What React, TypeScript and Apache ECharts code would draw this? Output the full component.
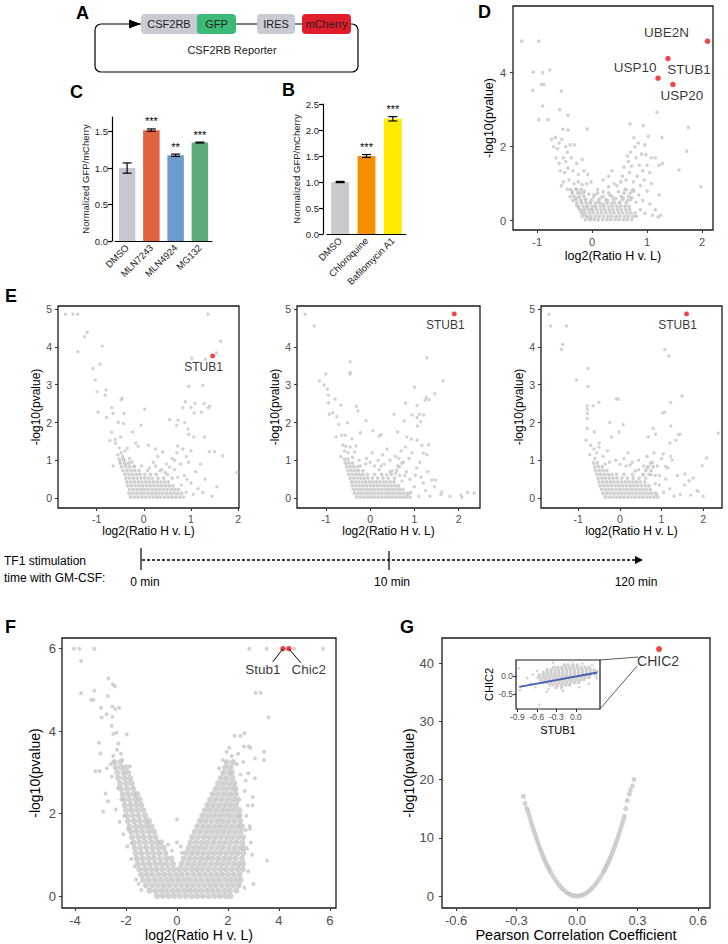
import React, { useEffect, useRef } from 'react';
import * as echarts from 'echarts';

const FONT = '"Liberation Sans", Arial, Helvetica, sans-serif';
const GRAY = '#c9c5c6';
const RED = '#e8161b';

// ---------- Panel C (bar) ----------
const C_CATS = ['DMSO', 'MLN7243', 'MLN4924', 'MG132'];
const C_MEANS = [1.0, 1.52, 1.175, 1.35];
const C_ERRS = [0.07, 0.016, 0.016, 0.006];
const C_STARS = ['', '***', '**', '***'];
const C_COLORS = ['#c6c8d0', '#e0623f', '#6e9bcd', '#5bac79'];
const C_TICKS = [0, 0.5, 1.0, 1.5];

// ---------- Panel B (bar) ----------
const B_CATS = ['DMSO', 'Chloroquine', 'Bafilomycin A1'];
const B_MEANS = [1.0, 1.5, 2.215];
const B_ERRS = [0.012, 0.028, 0.042];
const B_STARS = ['', '***', '***'];
const B_COLORS = ['#c8cad0', '#f38f00', '#ffea00'];
const B_TICKS = [0, 0.5, 1.0, 1.5, 2.0, 2.5];

// ---------- Panel D (volcano) ----------
const D_RED_NAMES = ['UBE2N', 'STUB1', 'USP10', 'USP20'];
const D_RED_X = [2.1, 1.38, 1.2, 1.47];
const D_RED_Y = [4.85, 4.38, 3.85, 3.68];
const D_GRAY = [
  [-1.28,4.85],[-0.97,4.85],[-1.07,4.01],[-0.9,4.0],[-0.77,4.07],[-0.88,3.68],[-0.92,3.68],[-1.08,3.52],[-0.56,3.5],[-0.9,3.1],
  [-0.97,2.73],[-0.8,2.73],[-0.59,3.0],[-0.44,2.85],[-0.53,2.47],[-0.44,2.45],[-0.09,2.48],[0.69,2.62],[0.93,2.57],[1.18,2.93],
  [1.75,2.52],[1.02,2.28],[1.27,2.25],[0.84,2.1],[0.76,2.24],[0.96,2.05],[1.08,1.7],[1.15,1.7],[1.72,1.88],[1.58,1.37],
  [1.98,0.92],[1.22,1.5],[1.28,1.55],[0.98,1.78],
  [-0.74,2.2],[-0.67,2.25],[-0.6,2.1],[-0.63,1.95],[-0.7,2.0],[-0.55,2.2],[-0.48,2.0],[-0.4,2.05],[-0.32,2.05],[-0.45,1.85],
  [-0.52,1.7],[-0.66,1.7],[-0.6,1.55],[-0.48,1.6],[-0.38,1.7],[-0.28,1.55],[-0.18,1.65],[-0.58,1.35],[-0.5,1.3],[-0.44,1.42],
  [-0.35,1.35],[-0.25,1.25],[-0.15,1.35],[-0.08,1.25],[-0.52,1.05],[-0.42,1.1],[-0.33,1.0],[-0.25,1.05],[-0.18,0.98],[-0.1,1.0],
  [-0.02,1.05],[-0.45,0.85],[-0.36,0.78],[-0.3,0.86],[-0.22,0.75],[-0.14,0.8],[-0.06,0.72],[-0.35,0.55],[-0.28,0.6],[-0.2,0.5],
  [-0.12,0.58],[-0.04,0.5],[-0.25,0.35],[-0.18,0.28],[-0.1,0.38],[-0.02,0.3],[-0.15,0.15],[-0.08,0.1],[-0.02,0.05],[-0.28,0.42],
  [-0.4,0.65],[-0.56,0.95],
  [0.05,0.4],[0.12,0.5],[0.2,0.45],[0.28,0.55],[0.35,0.48],[0.43,0.6],[0.5,0.5],[0.57,0.62],[0.64,0.55],[0.72,0.62],
  [0.16,0.62],[0.32,0.7],[0.48,0.78],[0.6,0.85],[0.76,0.8],[0.8,0.5],
  [0.04,0.7],[0.1,0.85],[0.2,0.78],[0.3,0.92],[0.45,0.95],[0.52,1.05],
  [0.55,1.2],[0.62,1.1],[0.68,1.3],[0.75,1.05],[0.82,1.2],[0.88,0.95],[0.95,1.1],[0.58,1.45],[0.66,1.6],[0.72,1.48],
  [0.8,1.7],[0.86,1.5],[0.92,1.35],[0.7,1.85],[0.78,2.0],[0.64,1.75],[0.9,1.8],[1.0,1.5],[1.05,1.3],[0.85,0.7],
  [0.92,0.55],[1.0,0.8],[0.88,0.3],[0.96,0.2],[1.05,0.45],[1.1,0.15],[1.2,0.1],[1.25,0.15],[1.22,0.7],[1.15,0.3],
  [1.08,1.0],[0.2,1.1],[0.3,1.2],[0.36,1.35],[0.4,1.0]
];
const D_CORE_ROWS = [
  [0.03, [-0.12,-0.04,0.04,0.11,0.19,0.27,0.34,0.42,0.49,0.57,0.64,0.72]],
  [0.12, [-0.18,-0.1,-0.02,0.06,0.13,0.21,0.29,0.36,0.44,0.51,0.59,0.66,0.74,0.8]],
  [0.21, [-0.2,-0.13,-0.05,0.02,0.1,0.17,0.25,0.33,0.4,0.48,0.55,0.63,0.7,0.78]],
  [0.3, [-0.22,-0.14,-0.07,0.01,0.08,0.16,0.23,0.31,0.38,0.46,0.53,0.61,0.68]],
  [0.39, [-0.25,-0.16,-0.08,0.0,0.07,0.15,0.22,0.3,0.37,0.45,0.52,0.6,0.67]],
  [0.48, [-0.28,-0.19,-0.11,-0.03,0.06,0.14,0.27,0.41,0.5,0.62]],
  [0.57, [-0.3,-0.21,-0.12,-0.01,0.12,0.25,0.39,0.55,0.7]],
  [0.66, [-0.33,-0.24,-0.15,0.03,0.2,0.36,0.53,0.66]],
  [0.75, [-0.36,-0.26,-0.16,0.1,0.3,0.58,0.7]],
  [0.84, [-0.39,-0.28,-0.2,0.62,0.74]]
];

// ---------- Panel E (three volcanoes) ----------
const E1_RED = [1.46, 3.76];
const E2_RED = [1.9, 4.87];
const E3_RED = [1.6, 4.87];
const E1_GRAY = [
  [-1.66,4.86],[-1.5,4.86],[-1.4,4.86],[-1.2,4.38],[-1.26,4.27],[-1.4,3.87],[-0.88,4.02],[-0.93,3.54],[-1.08,3.43],[-1.03,3.12],
  [-0.99,2.81],[-0.8,2.86],[-0.82,2.72],[-0.97,2.27],[-0.46,2.64],[-0.48,2.6],[0.02,2.35],[-0.68,2.39],[-0.65,2.24],[-0.42,2.24],
  [-0.79,2.13],[-0.54,2.0],[-0.43,1.97],[-0.06,1.93],[-0.68,1.74],[-0.61,1.55],[-0.72,1.52],[-0.49,1.62],[-0.24,1.75],[-0.17,1.45],
  [-0.12,1.37],
  [1.36,4.86],[1.63,4.15],[1.54,3.84],[1.31,3.67],[1.02,3.7],[0.95,2.96],[1.25,2.98],[1.4,2.44],[1.37,2.39],[1.28,2.5],
  [1.09,2.5],[0.88,2.55],[1.0,2.4],[0.83,2.39],[1.07,2.25],[1.22,2.27],[0.73,2.06],[0.7,1.92],[0.87,2.0],[0.55,2.08],
  [0.94,1.83],[1.06,1.62],[0.95,1.69],[1.29,1.62],[1.39,1.23],[1.5,1.23],[1.67,1.12],[1.98,0.68],
  [-0.52,1.33],[-0.48,1.2],[-0.55,1.15],[-0.45,1.1],[-0.4,1.25],[-0.35,1.32],[-0.42,1.0],[-0.5,0.95],[-0.38,0.9],[-0.3,1.05],
  [-0.25,0.95],[-0.2,0.85],[-0.05,0.85],
  [0.48,0.9],[0.6,1.05],[0.65,0.75],[0.7,1.2],[0.72,0.55],[0.78,0.9],[0.83,1.3],[0.86,0.6],[0.9,0.15],[0.95,0.95],
  [1.0,0.4],[1.05,0.1],[1.1,0.7],[0.12,0.8],[0.2,0.95],[0.3,1.1],[0.4,1.22],[0.25,0.85],[0.45,0.68],[0.55,0.82],
  [0.65,1.0],[0.72,1.38],[0.92,0.5],[1.15,0.25],[1.25,0.15],[1.3,0.5],[1.45,0.05],[1.55,0.3],[1.2,0.9],[0.9,1.1],
  [1.0,1.25],[0.25,1.3],[0.1,1.4],[-0.6,1.45],[-0.65,0.85],[0.38,0.75],[0.8,0.35]
];
const E1_CORE_ROWS = [
  [0.03, [-0.28,-0.2,-0.12,-0.04,0.04,0.12,0.2,0.28,0.36,0.44,0.52,0.6,0.68,0.76,0.84]],
  [0.13, [-0.32,-0.24,-0.16,-0.08,0.0,0.08,0.16,0.24,0.32,0.4,0.48,0.56,0.64,0.72,0.8]],
  [0.23, [-0.3,-0.22,-0.14,-0.06,0.02,0.1,0.18,0.26,0.34,0.42,0.5,0.58,0.66,0.74]],
  [0.33, [-0.34,-0.26,-0.18,-0.1,-0.02,0.06,0.14,0.22,0.3,0.38,0.46,0.54,0.62]],
  [0.43, [-0.36,-0.28,-0.2,-0.12,-0.04,0.04,0.12,0.2,0.28,0.36,0.44,0.52]],
  [0.53, [-0.38,-0.3,-0.22,-0.14,-0.06,0.02,0.1,0.18,0.3,0.42,0.6]],
  [0.63, [-0.4,-0.32,-0.24,-0.16,-0.08,0.02,0.14,0.26,0.5]],
  [0.73, [-0.44,-0.35,-0.27,-0.19,-0.1,0.08,0.35]],
  [0.83, [-0.47,-0.38,-0.3,-0.21]],
  [0.93, [-0.5,-0.41,-0.32]],
  [1.03, [-0.52,-0.43]]
];
const E2_GRAY = [
  [-1.47,4.86],[-1.26,4.55],[-0.45,3.61],[-0.45,3.32],[-0.45,3.28],[-1.0,3.28],[-1.14,3.1],[-1.04,2.99],[-0.96,2.88],[-0.94,2.72],
  [-0.79,2.62],[-0.94,2.52],[-0.66,2.46],[-0.31,2.43],[-0.28,2.31],[-0.84,2.26],[-0.92,2.22],[-0.75,2.15],[-0.71,1.95],[-0.51,1.99],
  [-0.64,1.66],[-0.77,1.62],[-0.56,1.66],[-0.41,1.57],[-0.09,2.05],[0.06,1.78],[0.21,1.64],[0.25,1.68],[-0.22,1.73],[-0.32,1.38],
  [-0.55,1.37],
  [1.28,3.71],[1.65,3.1],[1.0,2.93],[1.46,2.76],[1.27,2.66],[1.33,2.6],[1.24,2.59],[1.06,2.45],[0.8,2.51],[0.54,2.22],
  [0.95,2.2],[1.11,2.22],[1.21,2.2],[1.06,2.13],[1.14,2.02],[0.77,2.04],[1.07,1.91],[0.62,1.75],[0.83,1.62],[0.93,1.56],
  [1.06,1.54],[1.17,1.39],[1.32,1.41],[1.2,1.19],[1.28,1.15],[1.39,0.48],[1.47,0.48],[1.62,0.17],[2.35,0.13],[2.07,0.02],
  [-0.62,1.4],[-0.58,1.25],[-0.66,1.1],[-0.5,1.2],[-0.45,1.35],[-0.4,1.08],[-0.35,1.22],[-0.25,1.0],[-0.22,0.85],
  [0.2,0.75],[0.32,0.9],[0.37,0.62],[0.45,1.0],[0.5,0.72],[0.57,1.1],[0.62,0.85],[0.7,1.25],[0.75,0.95],[0.8,1.35],
  [0.82,0.7],[0.88,1.05],[0.9,0.5],[0.95,1.2],[1.0,0.3],[1.05,0.8],[1.1,0.05],[1.15,0.55],[1.25,0.2],[1.35,0.05],
  [1.45,0.3],[1.6,0.1],[1.8,0.05],[2.05,0.08],[2.2,0.15],[0.1,0.85],[0.0,0.95],[-0.08,1.05],[0.18,1.0],[0.28,1.15],
  [0.38,1.3],[0.05,1.2],[-0.1,0.9],[0.25,0.85],[0.45,0.7],[0.65,1.05],[0.58,0.65],[0.78,0.6],[0.67,0.6],[0.72,0.45],
  [1.02,0.6],[1.12,0.95],[1.2,0.4],[1.3,0.7],[0.85,0.1],[0.92,0.15]
];
const E2_CORE_ROWS = [
  [0.03, [-0.3,-0.22,-0.14,-0.06,0.02,0.1,0.18,0.26,0.34,0.42,0.5,0.58,0.66,0.74,0.82,0.9]],
  [0.13, [-0.35,-0.27,-0.19,-0.11,-0.03,0.05,0.13,0.21,0.29,0.37,0.45,0.53,0.61,0.69,0.77,0.85]],
  [0.23, [-0.38,-0.3,-0.22,-0.14,-0.06,0.02,0.1,0.18,0.26,0.34,0.42,0.5,0.58,0.66,0.74]],
  [0.33, [-0.4,-0.32,-0.24,-0.16,-0.08,0.0,0.08,0.16,0.24,0.32,0.4,0.48,0.56,0.64]],
  [0.43, [-0.42,-0.34,-0.26,-0.18,-0.1,-0.02,0.06,0.14,0.22,0.3,0.38,0.46,0.54]],
  [0.53, [-0.45,-0.37,-0.29,-0.21,-0.13,-0.05,0.05,0.17,0.29,0.41,0.55]],
  [0.63, [-0.48,-0.4,-0.32,-0.24,-0.16,-0.06,0.1,0.26,0.48]],
  [0.73, [-0.5,-0.42,-0.34,-0.26,-0.16,0.6]],
  [0.83, [-0.53,-0.45,-0.37,-0.28,0.66]],
  [0.93, [-0.56,-0.48,-0.4,0.72]],
  [1.03, [-0.58,-0.5]]
];
const E3_GRAY = [
  [-1.7,4.86],[-1.66,4.55],[-1.28,4.55],[-1.37,4.06],[-1.4,3.93],[-1.04,3.12],[-0.76,3.43],[-0.76,2.95],[-0.78,2.44],[-0.78,2.35],
  [-0.78,2.24],[-0.78,2.11],[-0.64,2.44],[-0.5,2.53],[-0.08,2.62],[-0.04,2.62],[-0.78,1.84],[-0.81,1.53],[-0.61,1.75],[-0.49,1.46],
  [-0.24,2.0],[0.08,1.94],[-0.02,1.75],[-0.2,1.62],
  [1.08,3.93],[1.18,3.76],[1.49,2.7],[1.22,2.53],[1.02,2.25],[1.08,2.27],[1.22,1.91],[1.4,1.68],[1.44,1.69],[1.34,1.53],
  [1.2,1.46],[0.8,1.84],[0.86,1.69],[0.68,1.62],[2.36,1.72],[2.08,1.06],[1.98,0.86],[1.56,0.64],[1.76,0.53],[1.22,1.1],
  [1.04,1.17],[1.1,0.84],[1.66,0.46],[1.88,0.18],
  [-0.7,1.4],[-0.62,1.3],[-0.72,1.15],[-0.55,1.2],[-0.6,1.05],[-0.5,1.35],[-0.4,1.1],[-0.35,0.9],[-0.3,1.25],[-0.25,0.95],
  [0.25,0.88],[0.37,0.72],[0.45,1.0],[0.57,0.85],[0.65,1.1],[0.78,0.95],[0.82,1.2],[0.9,0.85],[0.95,0.35],[1.0,1.05],
  [1.05,0.15],[1.1,0.5],[1.2,0.25],[1.3,0.05],[1.38,0.6],[1.45,0.1],[1.55,0.35],[1.7,0.08],[1.85,0.2],[2.0,0.05],
  [0.0,0.9],[0.1,1.05],[0.2,1.2],[-0.1,1.0],[0.3,0.95],[0.15,0.85],[0.45,0.75],[0.55,0.62],[0.65,0.8],[0.75,0.62],
  [0.85,0.38],[0.95,0.6],[0.85,0.6],[0.88,0.1],[1.15,0.8],[1.25,1.0]
];
const E3_CORE_ROWS = [
  [0.03, [-0.35,-0.26,-0.17,-0.08,0.01,0.1,0.19,0.28,0.37,0.46,0.55,0.64,0.73,0.82,0.91]],
  [0.13, [-0.4,-0.31,-0.22,-0.13,-0.04,0.05,0.14,0.23,0.32,0.41,0.5,0.59,0.68,0.77,0.86]],
  [0.23, [-0.44,-0.35,-0.26,-0.17,-0.08,0.01,0.1,0.19,0.28,0.37,0.46,0.55,0.64,0.73]],
  [0.33, [-0.47,-0.38,-0.29,-0.2,-0.11,-0.02,0.07,0.16,0.25,0.34,0.43,0.52,0.61,0.7]],
  [0.43, [-0.5,-0.41,-0.32,-0.23,-0.14,-0.05,0.04,0.13,0.22,0.31,0.4,0.49,0.6]],
  [0.53, [-0.52,-0.43,-0.34,-0.25,-0.16,-0.07,0.05,0.18,0.32,0.46,0.62]],
  [0.63, [-0.55,-0.46,-0.37,-0.28,-0.19,-0.08,0.1,0.3,0.56,0.7]],
  [0.73, [-0.58,-0.49,-0.4,-0.31,0.62,0.75]],
  [0.83, [-0.6,-0.51,-0.42,0.68,0.8]],
  [0.93, [-0.63,-0.54,0.74]]
];
const E_X_TICKS = [-1, 0, 1, 2];
const E_Y_TICKS = [0, 1, 2, 3, 4, 5];
const TIME_LABELS = ['0 min', '10 min', '120 min'];

// ---------- Panel F ----------
const F_RED_NAMES = ['Stub1', 'Chic2'];
const F_RED_X = [4.16, 4.39];
const F_RED_Y = [6.0, 6.0];
const F_SPARSE = [
  [-4.04,6.0],[-3.83,6.0],[-3.24,6.0],[2.84,6.0],[3.52,6.0],[5.73,6.0],[4.6,6.0],[-3.76,5.7],[-3.76,4.92],[-3.24,4.98],
  [-3.37,4.76],[-3.28,4.76],[-2.69,5.28],[-2.52,5.14],[-2.43,5.09],[-2.72,4.85],[-2.98,4.57],[-2.76,4.41],[-2.96,4.33],[-2.53,4.35],
  [-2.42,4.53],[-2.53,4.6],[-2.27,4.57],[-2.56,4.13],[-2.5,3.93],[-2.37,3.96],[-1.97,3.92],[-3.06,3.72],[-3.0,3.46],[-3.2,3.03],
  [-3.03,3.03],[-2.75,3.1],[-2.8,2.49],[-2.9,2.05],[-2.5,3.26],[3.08,4.93],[3.28,4.93],[3.59,4.33],[3.42,3.5],[3.42,3.3],
  [3.06,3.34],[2.65,3.95],[2.49,3.89],[2.26,3.89],[2.82,3.63],[2.63,3.63],[2.88,3.59],[3.06,2.86],[2.8,2.98],[2.97,2.4],
  [2.97,2.2],[3.53,0.86],[3.0,0.29],[2.7,1.6],[2.87,1.63],
  [-2.5,3.4],[-2.6,3.2],[-2.35,3.55],[-2.2,3.45],[-2.55,2.9],[-2.7,2.3],[-2.4,2.1],[-2.25,1.8],[-2.1,1.5],[-1.95,1.2],
  [-1.8,0.9],[-1.6,0.4],[-1.4,0.15],[-0.2,1.1],[0.0,1.3],[0.0,1.86],[0.15,1.2],[-0.35,1.25],[0.2,1.05],[2.7,2.8],
  [2.78,2.2],[2.85,1.7],[2.9,1.3],[2.95,1.0],[2.8,0.6],[2.65,0.2],[2.35,3.2],[2.15,3.4],[1.95,3.5],[2.6,3.25],
  [1.8,3.3],[2.05,3.6],[2.5,2.95],[-2.3,3.7],[-2.15,3.3],[-1.85,3.15],[1.65,3.1],[2.4,3.45],
  [-2.32,2.62],[-2.18,2.35],[-2.08,1.95],[-1.92,1.62],[-1.78,1.28],[-1.66,0.72],[-1.5,0.3],[2.66,2.55],[2.72,1.95],[2.75,1.15]
];
const F_DENSE_ROWS = [
  [0.0, [-0.78,-0.55,-0.32,-0.1,0.12,0.35,0.58,0.8,1.02,1.25,1.48,1.7,1.92,2.1]],
  [0.13, [-1.08,-0.85,-0.62,-0.4,-0.17,0.05,0.28,0.5,0.73,0.95,1.18,1.4,1.63,1.86,2.08,2.33]],
  [0.26, [-1.22,-0.98,-0.75,-0.52,-0.3,-0.06,0.17,0.4,0.62,0.85,1.08,1.3,1.52,1.75,1.98,2.2,2.43]],
  [0.39, [-1.33,-1.1,-0.86,-0.63,-0.4,-0.18,0.05,0.28,0.5,0.73,0.96,1.2,1.42,1.65,1.88,2.1,2.32,2.5]],
  [0.52, [-1.4,-1.18,-0.95,-0.72,-0.5,-0.27,-0.04,0.18,0.42,0.65,0.88,1.1,1.33,1.56,1.78,2.0,2.23,2.46]],
  [0.65, [-1.48,-1.25,-1.02,-0.8,-0.57,-0.34,-0.12,0.1,0.33,0.56,0.78,1.0,1.24,1.47,1.7,1.92,2.15,2.38,2.58]],
  [0.78, [-1.53,-1.3,-1.08,-0.85,-0.62,-0.4,-0.16,0.18,0.42,0.65,0.88,1.1,1.33,1.56,1.78,2.0,2.23,2.45,2.6]],
  [0.91, [-1.58,-1.35,-1.12,-0.9,-0.66,-0.42,-0.22,0.27,0.5,0.72,0.95,1.18,1.4,1.63,1.86,2.08,2.3,2.55]],
  [1.04, [-1.62,-1.4,-1.16,-0.93,-0.7,-0.45,0.36,0.58,0.8,1.03,1.26,1.48,1.7,1.93,2.16,2.38,2.6]],
  [1.17, [-1.66,-1.43,-1.2,-0.97,-0.74,-0.52,0.46,0.68,0.9,1.12,1.35,1.58,1.8,2.03,2.26,2.48,2.62]],
  [1.3, [-1.7,-1.47,-1.24,-1.0,-0.78,-0.63,0.53,0.75,0.98,1.2,1.43,1.66,1.88,2.1,2.33,2.56]],
  [1.43, [-1.76,-1.52,-1.3,-1.06,-0.84,0.6,0.83,1.06,1.28,1.5,1.73,1.96,2.18,2.4,2.6]],
  [1.56, [-1.8,-1.57,-1.34,-1.1,-0.9,0.7,0.92,1.15,1.38,1.6,1.82,2.05,2.28,2.5]],
  [1.69, [-1.86,-1.62,-1.4,-1.18,-1.0,0.8,1.02,1.25,1.48,1.7,1.92,2.15,2.38,2.55]],
  [1.82, [-1.92,-1.68,-1.45,-1.22,-1.1,0.9,1.12,1.35,1.58,1.8,2.02,2.25,2.48]],
  [1.95, [-1.96,-1.73,-1.5,-1.25,1.0,1.22,1.45,1.68,1.9,2.12,2.35,2.46]],
  [2.08, [-2.0,-1.78,-1.55,-1.32,1.1,1.32,1.55,1.78,2.0,2.22,2.44]],
  [2.21, [-2.05,-1.82,-1.6,-1.4,1.2,1.42,1.65,1.88,2.1,2.32]],
  [2.34, [-2.08,-1.86,-1.63,-1.46,1.3,1.52,1.75,1.98,2.2,2.4]],
  [2.47, [-2.13,-1.9,-1.68,-1.56,1.4,1.62,1.85,2.08,2.3]],
  [2.6, [-2.2,-1.96,-1.72,1.52,1.74,1.96,2.18,2.3]],
  [2.73, [-2.24,-2.0,-1.78,1.62,1.84,2.06,2.25]],
  [2.86, [-2.3,-2.06,-1.84,1.72,1.94,2.18]],
  [2.99, [-2.34,-2.1,-1.92,1.82,2.05,2.15]],
  [3.12, [-2.4,-2.18,-2.0,1.9,2.1]],
  [3.25, [-2.45,-2.22,1.95,2.2]]
];
const F_X_TICKS = [-4, -2, 0, 2, 4, 6];
const F_Y_TICKS = [0, 2, 4, 6];

// ---------- Panel G ----------
const G_RED = [0.407, 42.4];
const G_CURVE = [
  [-0.266,17.1],[-0.258,15.9],[-0.25,15.1],[-0.245,14.7],[-0.24,14.2],[-0.235,13.6],[-0.23,13.0],[-0.225,12.4],[-0.22,11.9],[-0.215,11.3],
  [-0.21,10.8],[-0.205,10.3],[-0.2,9.75],[-0.195,9.25],[-0.19,8.78],[-0.185,8.3],[-0.18,7.85],[-0.175,7.4],[-0.17,6.98],[-0.165,6.56],
  [-0.16,6.16],[-0.155,5.78],[-0.15,5.4],[-0.145,5.05],[-0.14,4.7],[-0.135,4.37],[-0.13,4.05],[-0.12,3.45],[-0.11,2.9],[-0.1,2.39],
  [-0.09,1.93],[-0.08,1.52],[-0.07,1.16],[-0.06,0.85],[-0.05,0.59],[-0.04,0.38],[-0.03,0.21],[-0.02,0.09],[-0.01,0.02],[0,0],
  [0.01,0.02],[0.02,0.1],[0.03,0.22],[0.04,0.38],[0.05,0.6],[0.06,0.86],[0.07,1.17],[0.08,1.53],[0.09,1.94],[0.1,2.4],
  [0.11,2.9],[0.12,3.46],[0.13,4.06],[0.135,4.38],[0.14,4.72],[0.145,5.07],[0.15,5.42],[0.155,5.8],[0.16,6.18],[0.165,6.58],
  [0.17,7.0],[0.175,7.43],[0.18,7.87],[0.185,8.33],[0.19,8.8],[0.195,9.28],[0.2,9.78],[0.205,10.3],[0.21,10.82],[0.215,11.36],
  [0.22,11.92],[0.225,12.5],[0.23,13.1],[0.235,13.7],[0.242,15.0],[0.25,16.4],[0.26,17.5],[0.265,18.2],[0.275,18.9],[0.283,20.0]
];
const G_X_TICKS = [-0.6, -0.3, 0.0, 0.3, 0.6];
const G_Y_TICKS = [0, 10, 20, 30, 40];

// ---------- Inset (CHIC2 vs STUB1) ----------
const INSET_ROWS = [
  [0.32, [-0.18,-0.12,-0.05,0.02]],
  [0.25, [-0.34,-0.28,-0.22,-0.16,-0.1,-0.04,0.02,0.08,0.14,0.2]],
  [0.18, [-0.44,-0.38,-0.32,-0.26,-0.2,-0.14,-0.08,-0.02,0.04,0.1,0.16,0.22,0.28]],
  [0.11, [-0.5,-0.44,-0.38,-0.32,-0.26,-0.2,-0.14,-0.08,-0.02,0.04,0.1,0.16,0.22,0.28]],
  [0.04, [-0.56,-0.5,-0.44,-0.38,-0.32,-0.26,-0.2,-0.14,-0.08,-0.02,0.04,0.1,0.16,0.22,0.3]],
  [-0.03, [-0.58,-0.52,-0.46,-0.4,-0.34,-0.28,-0.22,-0.16,-0.1,-0.04,0.02,0.08,0.14,0.2]],
  [-0.1, [-0.54,-0.48,-0.42,-0.36,-0.3,-0.24,-0.18,-0.12,-0.06,0.0,0.06,0.12]],
  [-0.17, [-0.5,-0.44,-0.38,-0.32,-0.26,-0.2,-0.14,-0.08,-0.02,0.04]],
  [-0.24, [-0.4,-0.34,-0.28,-0.22,-0.16,-0.1]],
  [-0.31, [-0.3,-0.22]]
];
const INSET_SPARSE = [
  [-0.88,0.22],[-0.86,-0.38],[-0.75,-0.05],[-0.7,-0.2],[-0.66,0.05],[-0.62,-0.3],[-0.56,-0.78],[-0.57,-0.88],[-0.45,-0.42],[-0.35,0.38],
  [-0.05,0.42],[0.1,0.35],[0.25,0.3],[0.33,0.15],[0.32,-0.05],[0.2,-0.2],[-0.2,-0.4],[0.05,-0.3],[-0.6,0.15],[-0.42,-0.35]
];
const INSET_FIT = [[-0.87, -0.29], [0.33, 0.105]];
const INSET_X_TICKS = [-0.9, -0.6, -0.3, 0.0];
const INSET_Y_TICKS = [-0.5, 0.0];

// ---------- helpers ----------
function fromRows(rows: any[]) {
  const out: number[][] = [];
  rows.forEach(([y, xs]: any) => xs.forEach((x: number) => out.push([x, y])));
  return out;
}

function barSeries(gi: number, means: number[], errs: number[], stars: string[], colors: string[]) {
  return [
    {
      type: 'bar', xAxisIndex: gi, yAxisIndex: gi, barWidth: '68%', silent: true,
      data: means.map((v, i) => ({ value: v, itemStyle: { color: colors[i] } })),
    },
    {
      type: 'custom', xAxisIndex: gi, yAxisIndex: gi, silent: true, z: 5,
      data: means.map((m, i) => [i, m, errs[i]]),
      renderItem: (params: any, api: any) => {
        const i = api.value(0), m = api.value(1), e = api.value(2);
        const top = api.coord([i, m + e]);
        const bot = api.coord([i, m - e]);
        const cw = 4.5;
        const ls = { stroke: '#000', lineWidth: 1.2 };
        return {
          type: 'group',
          children: [
            { type: 'line', shape: { x1: top[0], y1: top[1], x2: bot[0], y2: bot[1] }, style: ls },
            { type: 'line', shape: { x1: top[0] - cw, y1: top[1], x2: top[0] + cw, y2: top[1] }, style: ls },
            { type: 'line', shape: { x1: bot[0] - cw, y1: bot[1], x2: bot[0] + cw, y2: bot[1] }, style: ls },
            {
              type: 'text', x: top[0], y: top[1] - 2,
              style: { text: stars[params.dataIndex], fill: '#000', fontSize: 11, fontFamily: FONT, align: 'center', verticalAlign: 'bottom' },
            },
          ],
        };
      },
    },
  ];
}

function barX(gi: number, cats: string[]) {
  return {
    type: 'category', gridIndex: gi, data: cats,
    axisLine: { lineStyle: { color: '#000', width: 1.2 } },
    axisTick: { alignWithLabel: true, length: 4, lineStyle: { color: '#000', width: 1.2 } },
    axisLabel: { rotate: 45, interval: 0, fontSize: 9.5, color: '#222', fontFamily: FONT, margin: 5 },
  };
}
function barY(gi: number, max: number, ticks: number[], offset: number) {
  return {
    type: 'value', gridIndex: gi, min: 0, max, offset,
    name: 'Normalized GFP/mCherry', nameLocation: 'middle', nameGap: 22,
    nameTextStyle: { fontSize: 9.5, color: '#222', fontFamily: FONT },
    axisLine: { show: true, onZero: false, lineStyle: { color: '#000', width: 1.2 } },
    axisTick: { show: true, length: 4, lineStyle: { color: '#000', width: 1.2 }, customValues: ticks },
    axisLabel: { fontSize: 9.5, color: '#222', fontFamily: FONT, margin: 4, customValues: ticks, formatter: (v: number) => v.toFixed(1) },
    splitLine: { show: false },
  };
}
function gAxis(gi: number, min: number, max: number, ticks: number[], name: string,
  fs: number, nfs: number, gap: number, margin: number, fmt?: (v: number) => string) {
  return {
    type: 'value', gridIndex: gi, min, max, name, nameLocation: 'middle', nameGap: gap,
    nameTextStyle: { fontSize: nfs, color: '#000', fontFamily: FONT },
    axisLine: { show: false, onZero: false },
    splitLine: { show: false },
    axisTick: { show: true, length: 3, lineStyle: { color: '#333', width: 1 }, customValues: ticks },
    axisLabel: { fontSize: fs, color: '#4d4d4d', fontFamily: FONT, margin, customValues: ticks, formatter: fmt || ((v: number) => String(v)) },
  };
}
function gray(gi: number, data: number[][], size: number) {
  return { type: 'scatter', xAxisIndex: gi, yAxisIndex: gi, data, symbolSize: size, itemStyle: { color: GRAY }, silent: true };
}
function red(gi: number, items: any[], size: number, fs: number, extra?: any) {
  return {
    type: 'scatter', xAxisIndex: gi, yAxisIndex: gi, symbolSize: size, itemStyle: { color: RED }, silent: true, z: 4,
    label: { show: true, position: 'inside', formatter: '{b}', color: '#000', fontSize: fs, fontFamily: FONT, textBorderWidth: 0 },
    data: items, ...(extra || {}),
  };
}

const BOX = { show: true, borderColor: '#1a1a1a', borderWidth: 1.3, backgroundColor: '#fff' };

// label offsets (pixels) — style only
const D_LABEL_OFFSETS = [[-41, -8.5], [21, 11], [-23, -10.5], [9, 11.5]];
const E_LABEL_OFFSET = [-9, 11];
const F_LABEL_OFFSETS = [[-20, 21], [20, 21]];

function txt(x: number, y: number, text: string, size: number, opts: any = {}) {
  return {
    type: 'text', x, y, silent: true, z: 50,
    style: {
      text, fontSize: size, fontFamily: FONT, fill: opts.fill || '#000', fontWeight: opts.weight || 'normal',
      align: opts.align || 'left', verticalAlign: 'middle', textAlign: opts.align || 'left', textVerticalAlign: 'middle',
    },
  };
}

function buildOption() {
  const letters = [['A', 76, 13], ['C', 70, 92], ['B', 282, 90], ['D', 478, 12], ['E', 5, 296], ['F', 5, 627], ['G', 400, 627]]
    .map(([t, x, y]: any) => txt(x, y, t, 18, { weight: 'bold' }));

  const panelA = [
    { type: 'rect', shape: { x: 95, y: 24, width: 263, height: 48, r: 6 }, style: { fill: 'none', stroke: '#000', lineWidth: 1.2 }, silent: true, z: 40 },
    { type: 'polygon', shape: { points: [[129, 19.5], [141, 24], [129, 28.5]] }, style: { fill: '#000' }, silent: true, z: 41 },
    { type: 'rect', shape: { x: 141, y: 14, width: 62, height: 20, r: 4 }, style: { fill: '#c9cbd2' }, silent: true, z: 42 },
    { type: 'rect', shape: { x: 197, y: 14, width: 39, height: 20, r: 4 }, style: { fill: '#3dba78' }, silent: true, z: 43 },
    { type: 'rect', shape: { x: 257, y: 14, width: 38, height: 20, r: 4 }, style: { fill: '#c9cbd2' }, silent: true, z: 42 },
    { type: 'rect', shape: { x: 302, y: 14, width: 49, height: 20, r: 4 }, style: { fill: '#e21d2b' }, silent: true, z: 42 },
    txt(169, 24, 'CSF2RB', 11, { align: 'center', fill: '#222' }),
    txt(216.5, 24, 'GFP', 11, { align: 'center', fill: '#222' }),
    txt(276, 24, 'IRES', 11, { align: 'center', fill: '#222' }),
    txt(326.5, 24, 'mCherry', 11, { align: 'center', fill: '#222' }),
    txt(232, 50, 'CSF2RB Reporter', 11, { align: 'center', fill: '#222' }),
  ];

  const timeline = [
    txt(4, 561, 'TF1 stimulation', 12),
    txt(4, 578, 'time with GM-CSF:', 12),
    { type: 'line', shape: { x1: 141, y1: 548, x2: 141, y2: 570 }, style: { stroke: '#000', lineWidth: 1.2 }, silent: true, z: 40 },
    { type: 'line', shape: { x1: 389, y1: 551, x2: 389, y2: 570 }, style: { stroke: '#000', lineWidth: 1.2 }, silent: true, z: 40 },
    { type: 'line', shape: { x1: 142, y1: 560, x2: 636, y2: 560 }, style: { stroke: '#000', lineWidth: 1.6, lineDash: [3, 2] }, silent: true, z: 40 },
    { type: 'polygon', shape: { points: [[635, 556], [643, 560], [635, 564]] }, style: { fill: '#000' }, silent: true, z: 40 },
    txt(145, 582, TIME_LABELS[0], 12, { align: 'center' }),
    txt(392, 582, TIME_LABELS[1], 12, { align: 'center' }),
    txt(636, 582, TIME_LABELS[2], 12, { align: 'center' }),
  ];

  const insetLinks = [
    { type: 'line', shape: { x1: 600, y1: 660, x2: 638, y2: 657 }, style: { stroke: '#333', lineWidth: 0.8 }, silent: true, z: 60 },
    { type: 'line', shape: { x1: 600, y1: 709, x2: 637, y2: 666 }, style: { stroke: '#333', lineWidth: 0.8 }, silent: true, z: 60 },
  ];

  const fmt1 = (v: number) => v.toFixed(1);

  return {
    animation: false,
    backgroundColor: '#fff',
    textStyle: { fontFamily: FONT },
    grid: [
      { left: 115, top: 117, width: 97, height: 124 },
      { left: 327, top: 104, width: 79, height: 130 },
      { left: 513, top: 6, width: 200, height: 224, ...BOX },
      { left: 58, top: 306, width: 181, height: 202, ...BOX },
      { left: 297, top: 306, width: 183, height: 202, ...BOX },
      { left: 541, top: 306, width: 181, height: 202, ...BOX },
      { left: 62, top: 638, width: 274, height: 270, ...BOX },
      { left: 442, top: 638, width: 268, height: 270, ...BOX },
      { left: 516, top: 660, width: 84, height: 49, ...BOX, borderWidth: 1.2, z: 10 },
    ],
    xAxis: [
      barX(0, C_CATS),
      barX(1, B_CATS),
      gAxis(2, -1.44, 2.2, E_X_TICKS, 'log2(Ratio H v. L)', 11, 12.5, 19, 6),
      gAxis(3, -1.82, 2.02, E_X_TICKS, 'log2(Ratio H v. L)', 10.5, 12, 17, 5),
      gAxis(4, -1.65, 2.48, E_X_TICKS, 'log2(Ratio H v. L)', 10.5, 12, 17, 5),
      gAxis(5, -1.89, 2.45, E_X_TICKS, 'log2(Ratio H v. L)', 10.5, 12, 17, 5),
      gAxis(6, -4.51, 6.24, F_X_TICKS, 'log2(Ratio H v. L)', 13, 14, 18, 6),
      gAxis(7, -0.67, 0.66, G_X_TICKS, 'Pearson Correlation Coefficient', 13, 14.5, 18, 6, fmt1),
      gAxis(8, -0.92, 0.37, INSET_X_TICKS, 'STUB1', 8.5, 11, 15, 3, fmt1),
    ],
    yAxis: [
      barY(0, 1.7, C_TICKS, 3),
      barY(1, 2.5, B_TICKS, 4),
      gAxis(2, -0.25, 5.8, [0, 2, 4], '-log10(pvalue)', 11, 12.5, 17, 7),
      gAxis(3, -0.26, 5.08, E_Y_TICKS, '-log10(pvalue)', 10.5, 12, 15, 6),
      gAxis(4, -0.26, 5.08, E_Y_TICKS, '-log10(pvalue)', 10.5, 12, 15, 6),
      gAxis(5, -0.26, 5.08, E_Y_TICKS, '-log10(pvalue)', 10.5, 12, 15, 6),
      gAxis(6, -0.29, 6.26, F_Y_TICKS, '-log10(pvalue)', 13, 14, 20, 6),
      gAxis(7, -2.06, 44.3, G_Y_TICKS, '-log10(pvalue)', 13, 14, 23, 8),
      gAxis(8, -0.9, 0.45, INSET_Y_TICKS, 'CHIC2', 8.5, 11, 22, 3, fmt1),
    ],
    series: [
      ...barSeries(0, C_MEANS, C_ERRS, C_STARS, C_COLORS),
      ...barSeries(1, B_MEANS, B_ERRS, B_STARS, B_COLORS),
      gray(2, fromRows(D_CORE_ROWS), 3.8),
      gray(2, D_GRAY, 3.6),
      red(2, D_RED_NAMES.map((n, i) => ({ name: n, value: [D_RED_X[i], D_RED_Y[i]], label: { offset: D_LABEL_OFFSETS[i] } })), 5.5, 13.5),
      gray(3, fromRows(E1_CORE_ROWS), 3.8),
      gray(3, E1_GRAY, 3.4),
      red(3, [{ name: 'STUB1', value: E1_RED, label: { offset: E_LABEL_OFFSET } }], 5, 12),
      gray(4, fromRows(E2_CORE_ROWS), 3.8),
      gray(4, E2_GRAY, 3.4),
      red(4, [{ name: 'STUB1', value: E2_RED, label: { offset: E_LABEL_OFFSET } }], 5, 12),
      gray(5, fromRows(E3_CORE_ROWS), 3.8),
      gray(5, E3_GRAY, 3.4),
      red(5, [{ name: 'STUB1', value: E3_RED, label: { offset: E_LABEL_OFFSET } }], 5, 12),
      gray(6, fromRows(F_DENSE_ROWS), 6.2),
      gray(6, F_SPARSE, 4),
      red(6, F_RED_NAMES.map((n, i) => ({ name: n, value: [F_RED_X[i], F_RED_Y[i]], label: { offset: F_LABEL_OFFSETS[i] } })), 5.5, 13.5, {
        markLine: {
          silent: true, symbol: ['none', 'none'], animation: false, label: { show: false },
          lineStyle: { color: '#000', width: 1, type: 'solid' },
          data: [
            [{ coord: [F_RED_X[0], F_RED_Y[0]] }, { coord: [3.76, 5.68] }],
            [{ coord: [F_RED_X[1], F_RED_Y[1]] }, { coord: [4.86, 5.66] }],
          ],
        },
      }),
      gray(7, G_CURVE, 5),
      red(7, [{ name: 'CHIC2', value: G_RED, label: { offset: [-1, 12] } }], 6, 14),
      { ...gray(8, fromRows(INSET_ROWS), 3.6), z: 12 },
      { ...gray(8, INSET_SPARSE, 2.6), z: 12 },
      {
        type: 'line', xAxisIndex: 8, yAxisIndex: 8, data: INSET_FIT, symbol: 'none', silent: true, z: 13,
        lineStyle: { color: '#4461b5', width: 2 },
      },
    ],
    graphic: [...letters, ...panelA, ...timeline, ...insetLinks],
  };
}

export default function App() {
  const ref = useRef<HTMLDivElement>(null);
  useEffect(() => {
    document.body.style.margin = '0';
    const chart = echarts.init(ref.current as HTMLDivElement, null, { renderer: 'svg' });
    chart.setOption(buildOption() as any);
    return () => chart.dispose();
  }, []);
  return <div ref={ref} style={{ width: 728, height: 944, background: '#fff' }} />;
}
